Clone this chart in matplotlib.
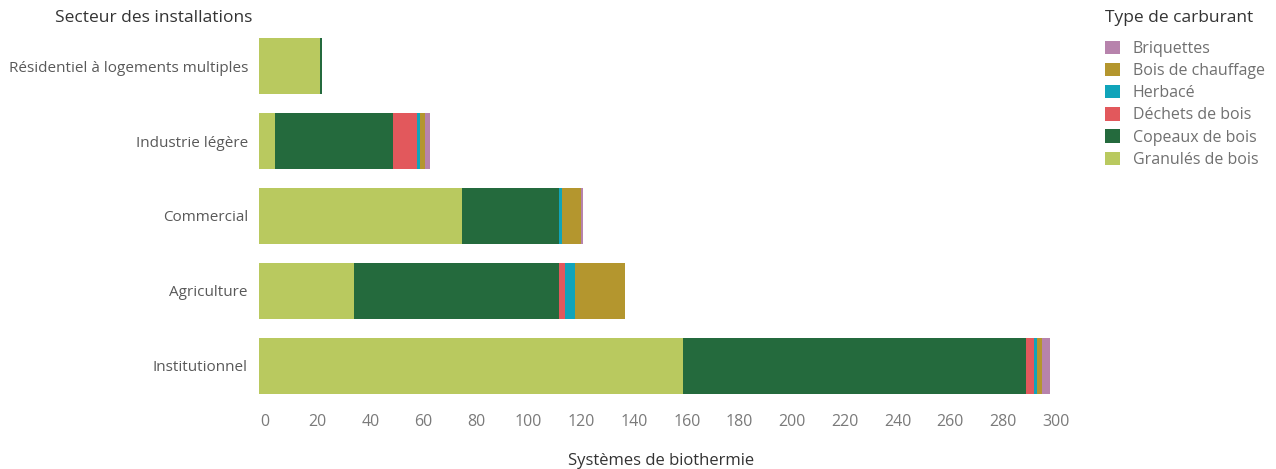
import matplotlib.pyplot as plt
from matplotlib.patches import Patch
from matplotlib.transforms import ScaledTranslation
import numpy as np

plt.rcParams["font.family"] = ["Open Sans", "DejaVu Sans"]

sectors = [
    "Résidentiel à logements multiples",
    "Industrie légère",
    "Commercial",
    "Agriculture",
    "Institutionnel",
]

# stacked values, in drawing order (left to right)
granules = [23, 6, 77, 36, 161]
copeaux = [1, 45, 37, 78, 130]
dechets = [0, 9, 0, 2, 3]
herbace = [0, 1, 1, 4, 1]
bois_chauffage = [0, 2, 7, 19, 2]
briquettes = [0, 2, 1, 0, 3]

fuel_names = ["Granulés de bois", "Copeaux de bois", "Déchets de bois",
              "Herbacé", "Bois de chauffage", "Briquettes"]
fuel_values = [granules, copeaux, dechets, herbace, bois_chauffage, briquettes]
fuel_colors = ["#b9c95f", "#246a3d", "#e2585c", "#10a4ba", "#b4962e", "#b783ac"]

x_ticks = list(range(0, 301, 20))

fig = plt.figure(figsize=(12.76, 4.69), dpi=100)
ax = fig.add_axes([0.203, 0.14, 0.63, 0.799])

y = np.arange(len(sectors))
left = np.zeros(len(sectors))
for name, vals, color in zip(fuel_names, fuel_values, fuel_colors):
    vals = np.array(vals, dtype=float)
    ax.barh(y, vals, left=left, height=0.75, color=color, label=name)
    left += vals

ax.set_ylim(len(sectors) - 0.5, -0.5)
ax.set_xlim(0, 305)
ax.set_yticks(y)
ax.set_yticklabels(sectors, fontsize=11, color="#595959")
ax.set_xticks(x_ticks)
ax.set_xticklabels([str(t) for t in x_ticks], fontsize=11.5, color="#7a7a7a")
ax.tick_params(axis="y", length=0, pad=8)
ax.tick_params(axis="x", length=0, pad=8)
# tick labels sit a few pixels right of their values in the original
shift = ScaledTranslation(6 / 100, 0, fig.dpi_scale_trans)
for lab in ax.get_xticklabels():
    lab.set_transform(lab.get_transform() + shift)
for spine in ax.spines.values():
    spine.set_visible(False)

ax.set_xlabel("Systèmes de biothermie", fontsize=12, color="#333333", labelpad=16)
fig.text(0.043, 0.962, "Secteur des installations", fontsize=12.5,
         color="#333333", ha="left", va="center")
fig.text(0.866, 0.962, "Type de carburant", fontsize=12.5,
         color="#333333", ha="left", va="center")

handles = [Patch(facecolor=c) for c in fuel_colors][::-1]
labels = fuel_names[::-1]
leg = fig.legend(handles, labels, loc="upper left",
                 bbox_to_anchor=(0.855, 0.944), frameon=False,
                 fontsize=11.5, handlelength=0.9, handleheight=0.9,
                 handletextpad=0.8, labelspacing=0.38)
for t in leg.get_texts():
    t.set_color("#707070")

fig.savefig("out.png", dpi=100)
